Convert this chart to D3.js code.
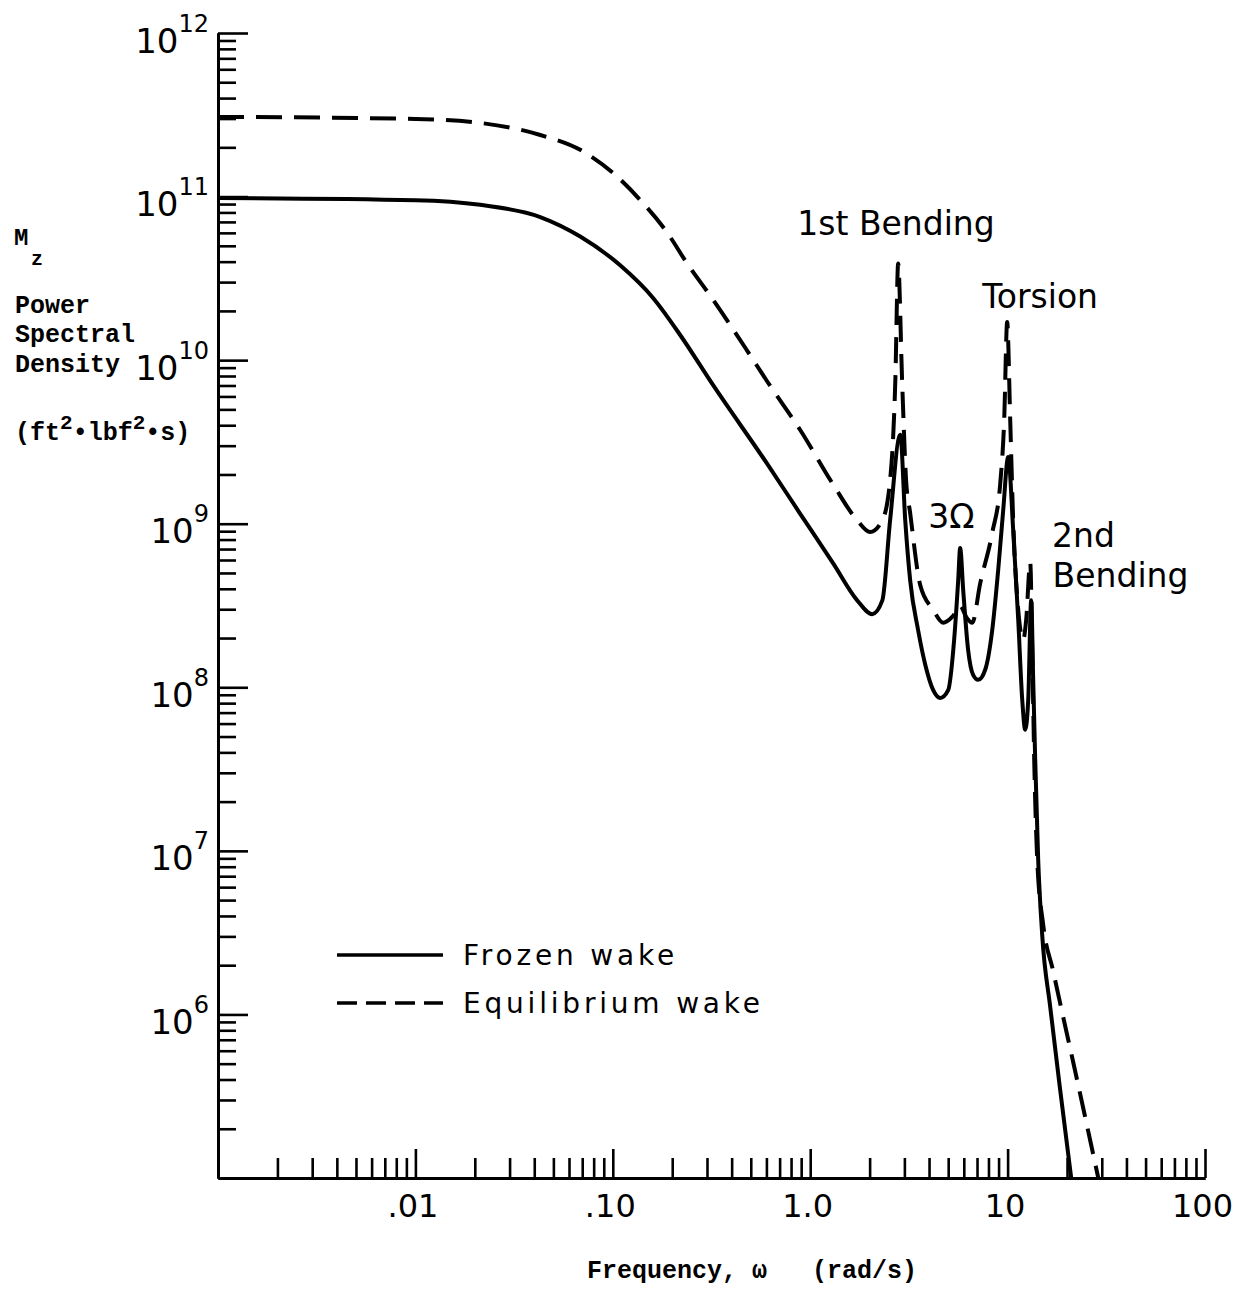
<!DOCTYPE html>
<html>
<head>
<meta charset="utf-8">
<script src="https://cdn.jsdelivr.net/npm/d3@7"></script>
<style>
  body { margin: 0; background: #fff; }
  svg { display: block; }
</style>
</head>
<body>
<svg id="chart" width="1241" height="1290"></svg>
<script>
// Frozen wake (solid line)
const frozenFreq = [0.001, 0.01, 0.0213, 0.0429, 0.0684, 0.109, 0.160, 0.219, 0.323, 0.606,
    0.890, 1.31, 1.73, 2.06, 2.32, 2.54, 2.86, 3.03, 3.21, 3.52,
    3.83, 4.20, 4.56, 5.00, 5.36, 5.62, 5.75, 5.96, 6.31, 6.69,
    7.09, 7.70, 8.36, 8.96, 9.50, 10.07, 10.67, 11.32, 11.86, 12.28,
    12.72, 13.17, 13.48, 13.80, 14.29, 14.97, 16.44, 18.46, 21.0];
const frozenPsd = [9.8e10, 9.5e10, 8.9e10, 7.5e10, 5.7e10, 3.8e10, 2.4e10, 1.43e10, 7.0e9, 2.32e9,
    1.15e9, 5.7e8, 3.4e8, 2.8e8, 3.4e8, 1.05e9, 3.5e9, 1.05e9, 4.5e8, 2.24e8,
    1.37e8, 9.6e7, 8.6e7, 9.6e7, 1.95e8, 4.5e8, 7.1e8, 3.9e8, 1.69e8, 1.19e8,
    1.11e8, 1.28e8, 2.24e8, 5.2e8, 1.21e9, 2.56e9, 9.2e8, 2.58e8, 8.4e7, 5.5e7,
    8.4e7, 3.4e8, 1.11e8, 3.6e7, 8.8e6, 3.07e6, 1.11e6, 3.46e5, 1.0e5];

// Equilibrium wake (dashed line)
const equilFreq = [0.001, 0.01, 0.0213, 0.0429, 0.0684, 0.1005, 0.138, 0.189, 0.238, 0.323,
    0.480, 0.606, 0.890, 1.31, 1.73, 2.01, 2.32, 2.54, 2.70, 2.79,
    2.92, 3.06, 3.21, 3.61, 4.20, 4.72, 5.24, 5.75, 6.17, 6.62,
    7.26, 8.36, 9.18, 9.61, 9.95, 10.31, 10.67, 11.32, 12.0, 12.42,
    13.02, 13.33, 13.64, 14.13, 15.15, 17.0, 19.1, 21.5, 24.2, 28.8];
const equilPsd = [3.07e11, 2.98e11, 2.82e11, 2.38e11, 1.93e11, 1.39e11, 9.5e10, 6.0e10, 3.9e10, 2.33e10,
    1.14e10, 7.4e9, 3.74e9, 1.73e9, 1.05e9, 8.9e8, 1.05e9, 1.85e9, 7.6e9, 3.9e10,
    7.6e9, 1.85e9, 1.16e9, 4.2e8, 2.97e8, 2.48e8, 2.69e8, 3.15e8, 2.69e8, 2.48e8,
    4.3e8, 8.8e8, 1.77e9, 4.3e9, 1.71e10, 4.3e9, 1.05e9, 2.97e8, 1.95e8, 2.58e8,
    5.8e8, 1.69e8, 3.6e7, 8.8e6, 3.53e6, 1.85e6, 9.7e5, 5.1e5, 2.65e5, 1.0e5];

// Axis ticks
const xMajorTicks = [0.01, 0.1, 1, 10, 100];
const xTickLabels = [".01", ".10", "1.0", "10", "100"];
const yExponents = [6, 7, 8, 9, 10, 11, 12];

// Peak labels: text anchored at (frequency, psd)
const peakLabels = [
    { text: "1st Bending", freq: 0.86, psd: 5.8e10 },
    { text: "Torsion", freq: 7.44, psd: 2.08e10 },
    { text: "3\u03A9", freq: 3.96, psd: 9.4e8 },
    { text: "2nd", freq: 16.8, psd: 7.2e8 },
    { text: "Bending", freq: 16.9, psd: 4.1e8 }
];

const svg = d3.select("#chart");
const width = +svg.attr("width");
const height = +svg.attr("height");

const margin = { top: 33, right: 36, bottom: 112, left: 218 };

const sans = "'DejaVu Sans', sans-serif";
const mono = "'Liberation Mono', 'DejaVu Sans Mono', monospace";

const x = d3.scaleLog()
    .domain([0.001, 100])
    .range([margin.left, width - margin.right]);

const y = d3.scaleLog()
    .domain([1e5, 1e12])
    .range([height - margin.bottom, margin.top]);

// minor ticks 2..9 in every decade
const xMinor = [];
for (let k = -3; k <= 1; k++) {
    for (let m = 2; m <= 9; m++) xMinor.push(m * Math.pow(10, k));
}
const yMinor = [];
for (let k = 5; k <= 11; k++) {
    for (let m = 2; m <= 9; m++) yMinor.push(m * Math.pow(10, k));
}

// ---- axes ----
const xAxisG = svg.append("g")
    .attr("transform", `translate(0,${height - margin.bottom})`);

xAxisG.append("g")
    .call(d3.axisBottom(x).tickValues(xMinor).tickSize(-20).tickSizeOuter(0).tickFormat(""));

xAxisG.append("g")
    .call(d3.axisBottom(x).tickValues(xMajorTicks).tickSize(-29).tickSizeOuter(0)
        .tickPadding(16)
        .tickFormat((d, i) => xTickLabels[i]));

const yAxisG = svg.append("g")
    .attr("transform", `translate(${margin.left},0)`);

yAxisG.append("g")
    .call(d3.axisLeft(y).tickValues(yMinor).tickSize(-18).tickSizeOuter(0).tickFormat(""));

const yMajor = yAxisG.append("g")
    .call(d3.axisLeft(y).tickValues(yExponents.map(e => Math.pow(10, e)))
        .tickSize(-30).tickSizeOuter(0).tickPadding(10).tickFormat(""));

// superscript tick labels 10^n
yMajor.selectAll(".tick text").each(function (d, i) {
    const t = d3.select(this)
        .attr("dy", null)
        .attr("y", 19)
        .attr("x", -9)
        .attr("text-anchor", "end");
    t.append("tspan")
        .attr("font-size", 34)
        .text("10");
    t.append("tspan")
        .attr("font-size", 24)
        .attr("dy", -21)
        .text(yExponents[i]);
});

svg.selectAll(".domain")
    .attr("stroke", "#000")
    .attr("stroke-width", 3);

svg.selectAll(".tick line")
    .attr("stroke", "#000")
    .attr("stroke-width", 2.6);

svg.selectAll(".tick text")
    .attr("fill", "#000")
    .attr("font-family", sans);

xAxisG.selectAll(".tick text")
    .attr("font-size", 32)
    .attr("dx", -3);

// ---- curves ----
const line = d3.line()
    .x(d => x(d[0]))
    .y(d => y(d[1]))
    .curve(d3.curveMonotoneX);

const frozen = frozenFreq.map((f, i) => [f, frozenPsd[i]]);
const equil = equilFreq.map((f, i) => [f, equilPsd[i]]);

svg.append("path")
    .datum(equil)
    .attr("fill", "none")
    .attr("stroke", "#000")
    .attr("stroke-width", 4)
    .attr("stroke-dasharray", "26,12")
    .attr("d", line);

svg.append("path")
    .datum(frozen)
    .attr("fill", "none")
    .attr("stroke", "#000")
    .attr("stroke-width", 4)
    .attr("d", line);

// ---- peak labels ----
svg.selectAll(".peak-label")
    .data(peakLabels)
    .join("text")
    .attr("class", "peak-label")
    .attr("x", d => x(d.freq))
    .attr("y", d => y(d.psd))
    .attr("font-family", sans)
    .attr("font-size", 33)
    .attr("fill", "#000")
    .text(d => d.text);

// ---- legend ----
const legend = svg.append("g")
    .attr("transform", "translate(337,955)");

const legendItems = [
    { name: "Frozen wake", dash: null },
    { name: "Equilibrium wake", dash: "20,9" }
];

legendItems.forEach((item, i) => {
    const row = legend.append("g").attr("transform", `translate(0,${i * 48})`);
    row.append("line")
        .attr("x1", 0).attr("x2", 106)
        .attr("y1", 0).attr("y2", 0)
        .attr("stroke", "#000")
        .attr("stroke-width", 3.5)
        .attr("stroke-dasharray", item.dash);
    row.append("text")
        .attr("x", 126)
        .attr("y", 10)
        .attr("font-family", sans)
        .attr("font-size", 28)
        .attr("letter-spacing", 3.8)
        .attr("fill", "#000")
        .text(item.name);
});

// ---- axis titles ----
const yTitle = svg.append("g")
    .attr("font-family", mono)
    .attr("font-weight", "bold")
    .attr("fill", "#000");

yTitle.append("text").attr("x", 14).attr("y", 245).attr("font-size", 24).text("M");
yTitle.append("text").attr("x", 31).attr("y", 265).attr("font-size", 20).text("z");
yTitle.append("text").attr("x", 15).attr("y", 313).attr("font-size", 25).text("Power");
yTitle.append("text").attr("x", 15).attr("y", 342).attr("font-size", 25).text("Spectral");
yTitle.append("text").attr("x", 15).attr("y", 372).attr("font-size", 25).text("Density");

const unit = yTitle.append("text").attr("x", 15).attr("y", 440).attr("font-size", 25);
unit.append("tspan").text("(ft");
unit.append("tspan").attr("dy", -11).attr("font-size", 21).text("2");
unit.append("tspan").attr("dy", 11).text("\u2022lbf");
unit.append("tspan").attr("dy", -11).attr("font-size", 21).text("2");
unit.append("tspan").attr("dy", 11).text("\u2022s)");

svg.append("text")
    .attr("x", 587)
    .attr("y", 1278)
    .attr("font-family", mono)
    .attr("font-weight", "bold")
    .attr("font-size", 25)
    .attr("fill", "#000")
    .style("white-space", "pre")
    .text("Frequency, \u03C9   (rad/s)");
</script>
</body>
</html>
